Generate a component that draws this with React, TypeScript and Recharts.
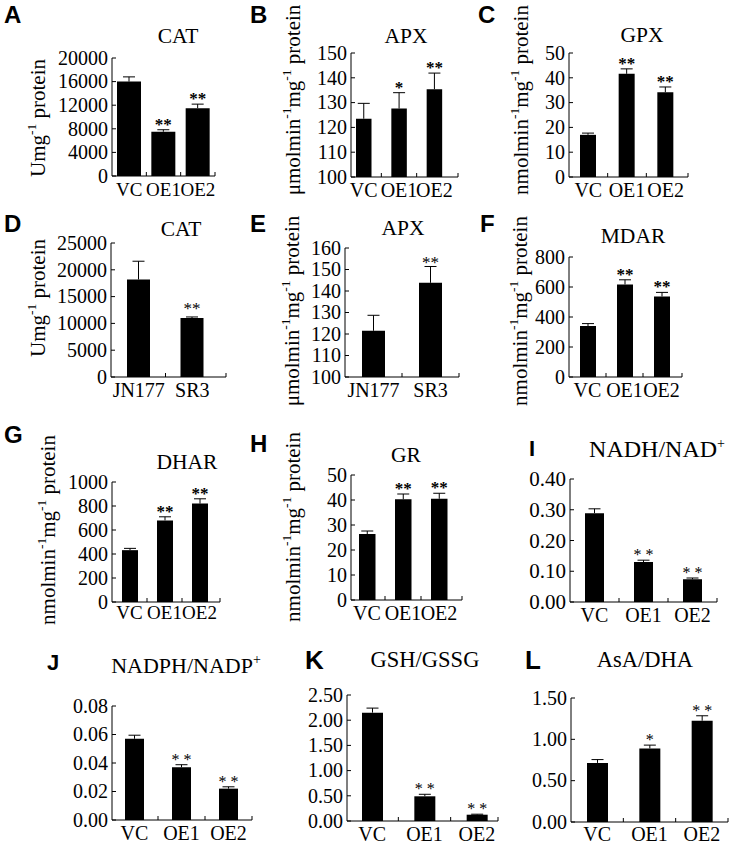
import React from 'react';
import { BarChart, Bar, XAxis, YAxis } from 'recharts';

const SERIF = '"Liberation Serif", "Times New Roman", serif';
const SANS = '"Liberation Sans", Arial, sans-serif';

// categories
const OE = ['VC', 'OE1', 'OE2'];
const LINES = ['JN177', 'SR3'];

// values (mean, error, significance)
const catOE = [16000, 7500, 11500];
const catOEErr = [800, 340, 680];
const catOESig = ['', '**', '**'];

const apxOE = [123.5, 127.6, 135.4];
const apxOEErr = [6.2, 6.4, 6.5];
const apxOESig = ['', '*', '**'];

const gpx = [17, 41.6, 34.2];
const gpxErr = [0.7, 2.0, 2.1];
const gpxSig = ['', '**', '**'];

const catLine = [18200, 11000];
const catLineErr = [3400, 200];
const catLineSig = ['', '**'];

const apxLine = [121.5, 143.8];
const apxLineErr = [7.2, 7.6];
const apxLineSig = ['', '**'];

const mdar = [340, 617, 537];
const mdarErr = [16, 31, 27];
const mdarSig = ['', '**', '**'];

const dhar = [432, 680, 820];
const dharErr = [15, 30, 40];
const dharSig = ['', '**', '**'];

const gr = [26.4, 40.3, 40.5];
const grErr = [1.2, 2.1, 2.2];
const grSig = ['', '**', '**'];

const nadh = [0.289, 0.13, 0.074];
const nadhErr = [0.014, 0.006, 0.004];
const nadhSig = ['', '**', '**'];

const nadph = [0.057, 0.037, 0.022];
const nadphErr = [0.0025, 0.0018, 0.0013];
const nadphSig = ['', '**', '**'];

const gsh = [2.15, 0.49, 0.125];
const gshErr = [0.09, 0.04, 0.01];
const gshSig = ['', '**', '**'];

const asa = [0.715, 0.89, 1.225];
const asaErr = [0.04, 0.04, 0.06];
const asaSig = ['', '*', '**'];

// tick values
const ticksCatOE = [0, 4000, 8000, 12000, 16000, 20000];
const ticksApxOE = [100, 110, 120, 130, 140, 150];
const ticks50 = [0, 10, 20, 30, 40, 50];
const ticksCatLine = [0, 5000, 10000, 15000, 20000, 25000];
const ticksApxLine = [100, 110, 120, 130, 140, 150, 160];
const ticksMdar = [0, 200, 400, 600, 800];
const ticksDhar = [0, 200, 400, 600, 800, 1000];
const ticksNadh = [0, 0.1, 0.2, 0.3, 0.4];
const ticksNadph = [0, 0.02, 0.04, 0.06, 0.08];
const ticksGsh = [0, 0.5, 1, 1.5, 2, 2.5];
const ticksAsa = [0, 0.5, 1, 1.5];

type Cfg = {
  letter: string; lx: number; ly: number; lfs: number;
  title: string; tsup?: string; tx: number; ty: number; tfs: number;
  ylab?: string; yx?: number; yy?: number;
  cats: string[]; vals: number[]; errs: number[]; sigs: string[];
  domain: [number, number]; ticks: number[]; dec: number;
  x0: number; top: number; bottom: number; x1: number; padL: number; padR: number;
  barSize: number; tickFs: number; xFs: number; xDy: number;
  starFs: number; starBold: boolean; starLs: number; starDy: number; cap: number;
};

const base = {
  lfs: 24, tfs: 21.5, dec: 0, padL: 0, padR: 0, tickFs: 20, xFs: 20, xDy: 20,
  starFs: 17, starBold: true, starLs: 0, starDy: 0, cap: 6,
};

const PANELS: Cfg[] = [
  { ...base, letter: 'A', lx: 4, ly: 23, title: 'CAT', tx: 178, ty: 43, ylab: 'U', yx: 38, yy: 118,
    cats: OE, vals: catOE, errs: catOEErr, sigs: catOESig, domain: [0, 20000], ticks: ticksCatOE,
    x0: 112, top: 58, bottom: 176, x1: 215, barSize: 24, xFs: 19 },
  { ...base, letter: 'B', lx: 250, ly: 23, title: 'APX', tx: 406, ty: 43, ylab: 'mu', yx: 293, yy: 100,
    cats: OE, vals: apxOE, errs: apxOEErr, sigs: apxOESig, domain: [100, 150], ticks: ticksApxOE,
    x0: 351, top: 53, bottom: 177, x1: 458, padL: -5, padR: 6, barSize: 15.5 },
  { ...base, letter: 'C', lx: 478, ly: 23, title: 'GPX', tx: 642, ty: 42, ylab: 'n', yx: 521, yy: 100,
    cats: OE, vals: gpx, errs: gpxErr, sigs: gpxSig, domain: [0, 50], ticks: ticks50,
    x0: 569, top: 53, bottom: 177, x1: 688, padL: 0, padR: 3, barSize: 16 },
  { ...base, letter: 'D', lx: 4, ly: 232, title: 'CAT', tx: 181, ty: 236, ylab: 'U', yx: 38, yy: 298,
    cats: LINES, vals: catLine, errs: catLineErr, sigs: catLineSig, domain: [0, 25000], ticks: ticksCatLine,
    x0: 111, top: 243, bottom: 377, x1: 226, padL: 1, padR: 7, barSize: 23, starBold: false, starDy: 3 },
  { ...base, letter: 'E', lx: 250, ly: 232, title: 'APX', tx: 403, ty: 235, ylab: 'mu', yx: 292, yy: 311,
    cats: LINES, vals: apxLine, errs: apxLineErr, sigs: apxLineSig, domain: [100, 160], ticks: ticksApxLine,
    x0: 345, top: 248, bottom: 377, x1: 459, barSize: 23, starBold: false, starDy: -2 },
  { ...base, letter: 'F', lx: 480, ly: 232, title: 'MDAR', tx: 633, ty: 243, ylab: 'n', yx: 520, yy: 311,
    cats: OE, vals: mdar, errs: mdarErr, sigs: mdarSig, domain: [0, 800], ticks: ticksMdar,
    x0: 569, top: 257, bottom: 377, x1: 682, padL: 0, padR: 2, barSize: 16 },
  { ...base, letter: 'G', lx: 4, ly: 443, title: 'DHAR', tx: 187, ty: 469, ylab: 'n', yx: 48, yy: 530,
    cats: OE, vals: dhar, errs: dharErr, sigs: dharSig, domain: [0, 1000], ticks: ticksDhar,
    x0: 112, top: 482, bottom: 602, x1: 220, padL: 0, padR: 3, barSize: 16, xFs: 19, xDy: 17 },
  { ...base, letter: 'H', lx: 250, ly: 452, title: 'GR', tx: 406, ty: 462, ylab: 'n', yx: 293, yy: 527,
    cats: OE, vals: gr, errs: grErr, sigs: grSig, domain: [0, 50], ticks: ticks50,
    x0: 351, top: 475, bottom: 600, x1: 462, padL: -2, padR: 5, barSize: 16.5 },
  { ...base, letter: 'I', lx: 529, ly: 456, lfs: 22, title: 'NADH/NAD', tsup: '+', tx: 657, ty: 457, tfs: 24,
    cats: OE, vals: nadh, errs: nadhErr, sigs: nadhSig, domain: [0, 0.4], ticks: ticksNadh, dec: 2,
    x0: 570, top: 479, bottom: 602, x1: 717, barSize: 19, starBold: false, starLs: 4, starFs: 16, tickFs: 21 },
  { ...base, letter: 'J', lx: 47, ly: 670, lfs: 22, title: 'NADPH/NADP', tsup: '+', tx: 186, ty: 673, tfs: 22,
    cats: OE, vals: nadph, errs: nadphErr, sigs: nadphSig, domain: [0, 0.08], ticks: ticksNadph, dec: 2,
    x0: 112, top: 706, bottom: 820, x1: 252, padL: -1, padR: 0, barSize: 19, xDy: 20, starBold: false, starLs: 4, starFs: 16 },
  { ...base, letter: 'K', lx: 305, ly: 669, lfs: 26, title: 'GSH/GSSG', tx: 425, ty: 667, tfs: 22.5,
    cats: OE, vals: gsh, errs: gshErr, sigs: gshSig, domain: [0, 2.5], ticks: ticksGsh, dec: 2,
    x0: 347, top: 695, bottom: 821, x1: 498, padL: -1, padR: -5, barSize: 21, xDy: 20, starBold: false, starLs: 4, starFs: 16 },
  { ...base, letter: 'L', lx: 525, ly: 669, lfs: 26, title: 'AsA/DHA', tx: 645, ty: 667, tfs: 22.5,
    cats: OE, vals: asa, errs: asaErr, sigs: asaSig, domain: [0, 1.5], ticks: ticksAsa, dec: 2,
    x0: 571, top: 698, bottom: 822, x1: 728, barSize: 21, xDy: 19, starBold: false, starLs: 4, starFs: 16 },
];

const YW = 60;
const MT = 14;
const MR = 8;
const XH = 32;

function Panel({ c }: { c: Cfg }) {
  const data = c.cats.map((cat, i) => ({ cat, v: c.vals[i], e: c.errs[i], sig: c.sigs[i] }));
  const plotW = c.x1 - c.x0;
  const n = c.cats.length;
  const band = (plotW - c.padL - c.padR) / n;
  const w = plotW + YW + MR;
  const h = c.bottom - c.top + MT + XH;

  const xTick = (p: any) => {
    const i = p.index;
    const bx = i === n - 1 ? YW + plotW : p.x + band / 2;
    return (
      <g>
        <line x1={bx} x2={bx} y1={p.y} y2={p.y - 4} stroke="#000" strokeWidth={1} />
        <text x={p.x} y={p.y + c.xDy} textAnchor="middle" fontFamily={SERIF} fontSize={c.xFs} fill="#000">
          {p.payload.value}
        </text>
      </g>
    );
  };

  const yTick = (p: any) => (
    <g>
      <line x1={p.x + 4} x2={p.x + 8} y1={p.y} y2={p.y} stroke="#000" strokeWidth={1} />
      <text x={p.x} y={p.y} dy="0.34em" textAnchor="end" fontFamily={SERIF} fontSize={c.tickFs} fill="#000">
        {Number(p.payload.value).toFixed(c.dec)}
      </text>
    </g>
  );

  const errShape = (p: any) => {
    const cx = p.x + p.width / 2;
    return (
      <g>
        <line x1={cx} x2={cx} y1={p.y} y2={p.y + p.height} stroke="#000" strokeWidth={1} />
        <line x1={cx - c.cap} x2={cx + c.cap} y1={p.y} y2={p.y} stroke="#000" strokeWidth={1} />
        {p.payload.sig ? (
          <text x={cx + c.starLs / 2} y={p.y - c.starDy} textAnchor="middle" fontFamily={SERIF}
            fontSize={c.starFs} fontWeight={c.starBold ? 700 : 400} letterSpacing={c.starLs} fill="#000">
            {p.payload.sig}
          </text>
        ) : null}
      </g>
    );
  };

  return (
    <div style={{ position: 'absolute', left: c.x0 - YW, top: c.top - MT }}>
      <BarChart width={w} height={h} data={data} margin={{ top: MT, right: MR, left: 0, bottom: 0 }}>
        <XAxis dataKey="cat" height={XH} interval={0} tickLine={false} tickSize={0} tickMargin={0}
          padding={{ left: c.padL, right: c.padR }} axisLine={{ stroke: '#000', strokeWidth: 1 }} tick={xTick} />
        <YAxis width={YW} type="number" domain={c.domain} ticks={c.ticks} interval={0}
          allowDataOverflow={c.domain[0] > 0} tickLine={false} tickSize={0} tickMargin={4}
          axisLine={{ stroke: '#000', strokeWidth: 1 }} tick={yTick} />
        <Bar dataKey="v" stackId="s" fill="#000" barSize={c.barSize} isAnimationActive={false} />
        <Bar dataKey="e" stackId="s" fill="none" barSize={c.barSize} shape={errShape} isAnimationActive={false} />
      </BarChart>
    </div>
  );
}

function YLabel({ kind, x, y }: { kind: string; x: number; y: number }) {
  const fs = 21;
  const up = -7;
  const sup = 13.5;
  const common = {
    transform: `translate(${x},${y}) rotate(-90)`,
    textAnchor: 'middle' as const,
    dominantBaseline: 'central' as const,
    fontFamily: SERIF,
    fontSize: fs,
    fill: '#000',
  };
  if (kind === 'U') {
    return (
      <text {...common}>
        Umg<tspan dy={up} fontSize={sup}>-1</tspan><tspan dy={-up}> protein</tspan>
      </text>
    );
  }
  const pre = kind === 'mu' ? 'μmolmin' : 'nmolmin';
  return (
    <text {...common}>
      {pre}<tspan dy={up} fontSize={sup}>-1</tspan><tspan dy={-up}>mg</tspan>
      <tspan dy={up} fontSize={sup}>-1</tspan><tspan dy={-up}> protein</tspan>
    </text>
  );
}

export default function App() {
  return (
    <div style={{ position: 'absolute', left: 0, top: 0, width: 734, height: 844, background: '#fff', overflow: 'hidden' }}>
      {PANELS.map((c) => <Panel key={c.letter} c={c} />)}
      <svg width={734} height={844} style={{ position: 'absolute', left: 0, top: 0, pointerEvents: 'none' }}>
        {PANELS.map((c) => (
          <g key={c.letter}>
            <text x={c.lx} y={c.ly} fontFamily={SANS} fontWeight={700} fontSize={c.lfs} fill="#000">{c.letter}</text>
            <text x={c.tx} y={c.ty} textAnchor="middle" fontFamily={SERIF} fontSize={c.tfs} fill="#000">
              {c.title}
              {c.tsup ? <tspan dy={-9} fontSize={14}>{c.tsup}</tspan> : null}
            </text>
            {c.ylab ? <YLabel kind={c.ylab} x={c.yx as number} y={c.yy as number} /> : null}
          </g>
        ))}
      </svg>
    </div>
  );
}
